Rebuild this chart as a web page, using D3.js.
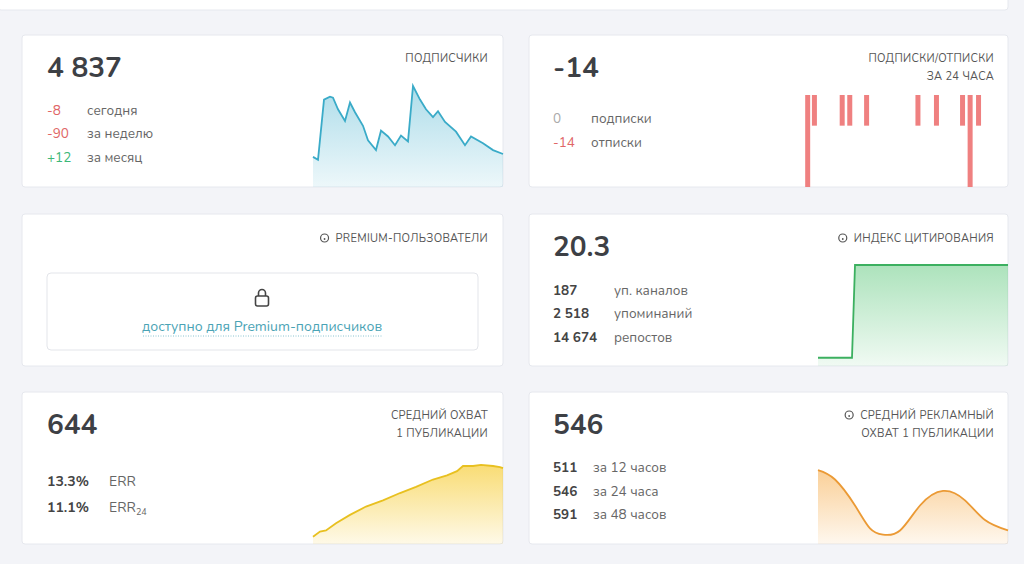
<!DOCTYPE html>
<html><head><meta charset="utf-8">
<script src="https://cdn.jsdelivr.net/npm/d3@7"></script>
<style>body{margin:0;background:#f3f4f8;font-family:Nunito,Lato,"Open Sans",sans-serif}</style>
</head><body><svg id="c" width="1024" height="564"></svg>
<script>
// Subscribers (index, relative level)
const subsX=[0,5,11,17,20,25,32,37,42,50,55,63,68,75,82,88,95,100,107,113,120,125,132,143,152,158,170,180,190];
const subsV=[31,28,90,93,92,80,68,87,77,63,48,38,58,52,43,53,47,104,90,80,72,78,67,57,43,52,45,38,34];
// Unsubscribes in last 24h (hour, count)
const unsubH=[0.2,1.0,4.3,5.2,7.2,13.3,15.5,18.6,19.5,20.5];
const unsubV=[3,1,1,1,1,1,1,1,3,1];
// Citation index
const citX=[0,34,37,190];
const citV=[0,0,20.3,20.3];
// Average reach
const reachX=[0,7,13,23,37,53,70,87,103,120,134,144,150,160,168,180,187,190];
const reachV=[7,12,13,20,28,36,42,49,55,62,66,70,75,75,76,75,74,73];
// Ad reach
const adX=[0,17,37,52,65,82,102,125,147,167,190];
const adV=[71,62,37,15,9,13,37,51,42,23,13];

const svg=d3.select("#c");
const card=(x,y,w,h)=>svg.append("rect").attr("x",x).attr("y",y).attr("width",w).attr("height",h).attr("rx",3).attr("fill","#fff").attr("stroke","#e6e8ee");
svg.append("rect").attr("x",-2).attr("y",-5).attr("width",1010).attr("height",15).attr("rx",3).attr("fill","#fff").attr("stroke","#e6e8ee");
const L=22,R=529,W1=481,W2=479,H=152,rows=[35,214,392];
rows.forEach(y=>{card(L,y,W1,H);card(R,y,W2,H);});
const txt=(x,y,s,o={})=>svg.append("text").attr("x",x).attr("y",y).text(s)
 .attr("font-size",o.size||13.5).attr("font-weight",o.bold?700:400).attr("fill",o.color||"#666")
 .attr("text-anchor",o.anchor||"start").attr("letter-spacing",o.ls||0);
const big=(x,y,s)=>txt(x,y,s,{size:28,bold:1,color:"#3d4045"});
const title=(x,y,s,icon)=>{txt(x,y,s,{size:11,color:"#555",anchor:"end",ls:0.3});
 if(icon){const t=svg.select("text:last-child").node().getComputedTextLength();
 svg.append("circle").attr("cx",x-t-11).attr("cy",y-4).attr("r",4).attr("fill","none").attr("stroke","#555").attr("stroke-width",1.2);
 svg.append("circle").attr("cx",x-t-11).attr("cy",y-3).attr("r",0.9).attr("fill","#555");}};
const defs=svg.append("defs");
const grad=(id,c,a1,a2)=>{const g=defs.append("linearGradient").attr("id",id).attr("x1",0).attr("y1",0).attr("x2",0).attr("y2",1);
 g.append("stop").attr("offset",0).attr("stop-color",c).attr("stop-opacity",a1);g.append("stop").attr("offset",1).attr("stop-color",c).attr("stop-opacity",a2);};
grad("gb","#4bb3cf",0.45,0.1);grad("gg","#48c06a",0.45,0.08);grad("gy","#f5c518",0.6,0.1);grad("go","#f5a030",0.5,0.08);
function areaChart(xs,vs,x0,x1,y0,y1,dom,col,gid,curve){
 const x=d3.scaleLinear().domain([0,190]).range([x0,x1]);
 const y=d3.scaleLinear().domain(dom).range([y1,y0]);
 const d=xs.map((v,i)=>[v,vs[i]]);
 svg.append("path").datum(d).attr("d",d3.area().x(p=>x(p[0])).y0(y1).y1(p=>y(p[1])).curve(curve)).attr("fill",`url(#${gid})`);
 svg.append("path").datum(d).attr("d",d3.line().x(p=>x(p[0])).y(p=>y(p[1])).curve(curve)).attr("fill","none").attr("stroke",col).attr("stroke-width",1.8);
}
// Card 1
big(47,77,"4 837");title(488,62,"ПОДПИСЧИКИ");
[["-8","сегодня","#e06666",115],["-90","за неделю","#e06666",138],["+12","за месяц","#3cb878",162]].forEach(r=>{txt(47,r[3],r[0],{color:r[2]});txt(87,r[3],r[1]);});
areaChart(subsX,subsV,313,503,85,187,[0,105],"#3aabc8","gb",d3.curveLinear);
// Card 2
big(553,77,"-14");title(994,62,"ПОДПИСКИ/ОТПИСКИ");title(994,80,"ЗА 24 ЧАСА");
txt(553,123,"0",{color:"#aaa"});txt(591,123,"подписки");txt(553,147,"-14",{color:"#e06666"});txt(591,147,"отписки");
const hx=d3.scaleLinear().domain([0,24]).range([806,1008]);
const hy=d3.scaleLinear().domain([0,3]).range([95,187]);
svg.selectAll(".b").data(unsubH).enter().append("rect").attr("x",d=>hx(d)-2.5).attr("y",95).attr("width",5)
 .attr("height",(d,i)=>hy(unsubV[i])-95).attr("fill","#ef8080");
// Card 3
title(488,242,"PREMIUM-ПОЛЬЗОВАТЕЛИ",1);
svg.append("rect").attr("x",47).attr("y",273).attr("width",431).attr("height",77).attr("rx",4).attr("fill","#fff").attr("stroke","#e3e5ea");
svg.append("rect").attr("x",255.5).attr("y",296).attr("width",13).attr("height",10).attr("rx",2).attr("fill","none").attr("stroke","#444").attr("stroke-width",1.6);
svg.append("path").attr("d","M258.5,296 v-3 a3.5,3.5 0 0 1 7,0 v3").attr("fill","none").attr("stroke","#444").attr("stroke-width",1.6);
txt(262,331,"доступно для Premium-подписчиков",{color:"#4aa3b5",anchor:"middle",size:14});
svg.append("line").attr("x1",143).attr("x2",382).attr("y1",336).attr("y2",336).attr("stroke","#8ac4d0").attr("stroke-dasharray","1,1.5");
// Card 4
big(553,256,"20.3");title(994,242,"ИНДЕКС ЦИТИРОВАНИЯ",1);
[["187","уп. каналов",295],["2 518","упоминаний",318],["14 674","репостов",342]].forEach(r=>{txt(553,r[2],r[0],{bold:1,color:"#444"});txt(614,r[2],r[1]);});
areaChart(citX,citV,818,1008,265,366,[-1.8,20.3],"#3cb060","gg",d3.curveLinear);
// Card 5
big(47,434,"644");title(488,419,"СРЕДНИЙ ОХВАТ");title(488,437,"1 ПУБЛИКАЦИИ");
txt(47,486,"13.3%",{bold:1,color:"#444",size:14});txt(109,486,"ERR",{size:14});
txt(47,512,"11.1%",{bold:1,color:"#444",size:14});const e=txt(109,512,"ERR",{size:14});e.append("tspan").attr("font-size",9).attr("dy",3).text("24");
areaChart(reachX,reachV,313,503,440,544,[0,100],"#e8c020","gy",d3.curveLinear);
// Card 6
big(553,434,"546");title(994,419,"СРЕДНИЙ РЕКЛАМНЫЙ",1);title(994,437,"ОХВАТ 1 ПУБЛИКАЦИИ");
[["511","за 12 часов",472],["546","за 24 часа",496],["591","за 48 часов",519]].forEach(r=>{txt(553,r[2],r[0],{bold:1,color:"#444"});txt(593,r[2],r[1]);});
areaChart(adX,adV,818,1008,440,544,[0,100],"#eb9a35","go",d3.curveNatural);
</script></body></html>
